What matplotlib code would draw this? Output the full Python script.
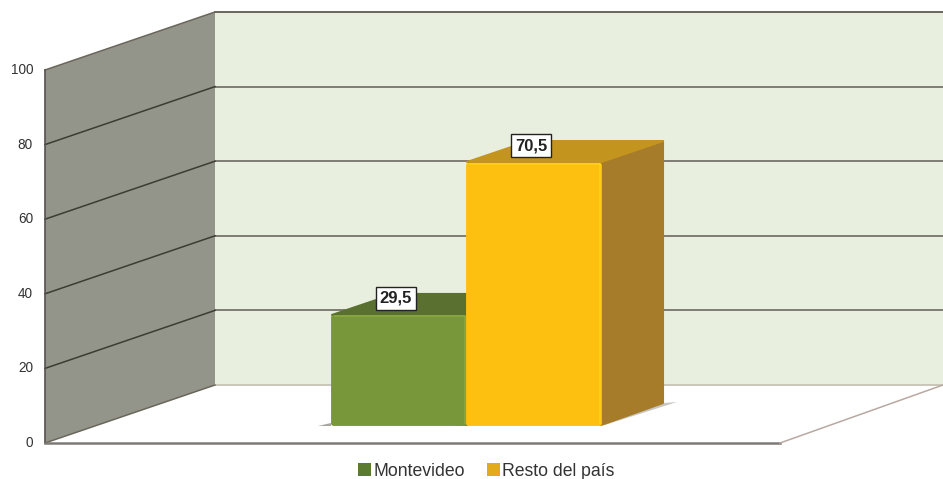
import matplotlib
matplotlib.use("Agg")
import matplotlib.pyplot as plt
from matplotlib.patches import Polygon, Rectangle, Patch

categories = ["Montevideo", "Resto del país"]
values = [29.5, 70.5]
labels = ["29,5", "70,5"]
ticks = [0, 20, 40, 60, 80, 100]

face_colors = ["#78973a", "#fdc010"]
edge_colors = ["#86a540", "#ffcf12"]
top_colors = ["#5a7030", "#c4951e"]
side_colors = ["#5a7030", "#a67c2a"]
legend_colors = ["#5b7b30", "#e3aa1c"]

plt.rcParams['font.family'] = ['Liberation Sans', 'DejaVu Sans']

# y axis is in chart units, x axis is in pixels
px = 1 / 3.73
fig = plt.figure(figsize=(9.43, 4.79), dpi=100)
ax = fig.add_axes([0, 0, 1, 1])
ax.set_xlim(0, 943)
ax.set_ylim(-36 * px, 443 * px)
ax.axis('off')

wall_x = 45
depth_x = 170
depth_y = 58 * px
floor_right = 780

# back wall and side wall
ax.add_patch(Rectangle((wall_x + depth_x, depth_y), 943, 100, fc='#e8efdf', ec='none', zorder=1))
ax.add_patch(Polygon([(wall_x, 0), (wall_x + depth_x, depth_y), (wall_x + depth_x, 100 + depth_y), (wall_x, 100)],
                     fc='#94958a', ec='none', zorder=2))

for t in ticks:
    back_y = t + depth_y
    color = '#c6c3b4' if t == 0 else ('#5e5a50' if t == 100 else '#77746a')
    ax.plot([wall_x + depth_x, 943], [back_y, back_y], color=color, lw=1.3, zorder=3)
    side = '#6a665c' if t in (0, 100) else '#3c3c32'
    ax.plot([wall_x, wall_x + depth_x], [t, back_y], color=side, lw=1.1, zorder=3)
    ax.text(33, t, str(t), ha='right', va='center', fontsize=9.8, color='#333333')

ax.plot([wall_x, wall_x], [0, 100], color='#55524c', lw=1.2, zorder=4)
ax.plot([wall_x, floor_right], [0, 0], color='#7d7977', lw=1.8, zorder=4)
ax.plot([floor_right, floor_right + 163], [0, depth_y], color='#b8a9a2', lw=1.1, zorder=4)

# bars
bar_left = 331
bar_width = 135
bar_base = 18 * px
bar_dx = 63
bar_dy = 22 * px

for i, v in enumerate(values):
    x0 = bar_left + i * bar_width
    x1 = x0 + bar_width
    y0 = bar_base
    y1 = bar_base + v
    # floor shadow
    ax.add_patch(Polygon([(x1, y0), (x1 + bar_dx, y0 + bar_dy), (x1 + bar_dx + 13, y0 + bar_dy + 1 * px),
                          (x1 + 4, y0)], fc='#c9c7c5', ec='none', zorder=4))
    ax.add_patch(Polygon([(x0 - 13, y0 - 1 * px), (x0, y0 + 2 * px), (x0, y0 - 1 * px)],
                         fc='#a8a6a3', ec='none', zorder=4))
    # side, top, front
    ax.add_patch(Polygon([(x1, y0), (x1 + bar_dx - 1, y0 + bar_dy), (x1 + bar_dx - 1, y1 + bar_dy - 1 * px), (x1, y1)],
                         fc=side_colors[i], ec=side_colors[i], lw=1.5, joinstyle='round', zorder=5 + i))
    ax.add_patch(Polygon([(x0 + 1, y1), (x0 + bar_dx, y1 + bar_dy - 1 * px), (x1 + bar_dx - 1, y1 + bar_dy - 1 * px),
                          (x1, y1)],
                         fc=top_colors[i], ec=top_colors[i], lw=1.5, joinstyle='round', zorder=5 + i))
    ax.add_patch(Rectangle((x0 + 2, y0 + 2.5 * px), bar_width - 4.5, v - 5 * px, fc=face_colors[i], ec=face_colors[i],
                           lw=3.5, joinstyle='round', zorder=6 + i))
    # lighter bevel along the top and right of the front face
    ax.plot([x0 + 4, x1 - 1.5, x1 - 1.5], [y1 - 1.5 * px, y1 - 1.5 * px, y0 + 2 * px], color=edge_colors[i], lw=1.4,
            solid_joinstyle='round', zorder=6 + i)
    ax.text((x0 + x1) / 2 - 2.5, y1 + 16.5 * px, labels[i], ha='center', va='center', fontsize=12, fontweight='bold',
            color='#222222', zorder=10,
            bbox=dict(boxstyle='square,pad=0.22', fc='white', ec='#222222', lw=1))

handles = [Patch(fc=c, ec='none', label=n) for c, n in zip(legend_colors, categories)]
fig.legend(handles=handles, loc='center', bbox_to_anchor=(486 / 943, 1 - 471 / 479), ncol=2, frameon=False,
           fontsize=12.7, handlelength=0.75, handleheight=0.75, handletextpad=0.1, columnspacing=1.25,
           labelcolor='#333333', borderpad=0)

fig.savefig('out.png', dpi=100)
